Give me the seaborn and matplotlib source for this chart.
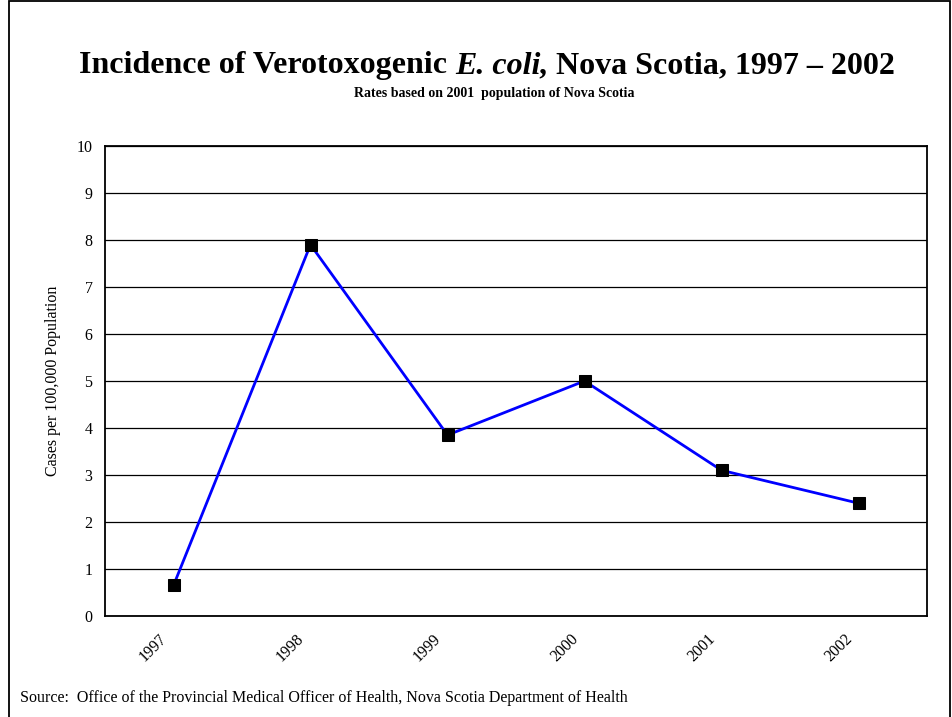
import matplotlib
matplotlib.use('Agg')
import matplotlib.pyplot as plt
import matplotlib.transforms as mtransforms
import seaborn as sns
import pandas as pd
from matplotlib.patches import Rectangle

# datos
years = ['1997', '1998', '1999', '2000', '2001', '2002']
rates = [0.65, 7.9, 3.85, 5.0, 3.1, 2.4]

df = pd.DataFrame({'year': years, 'rate': rates})

sns.set_style('white')
plt.rcParams['font.family'] = ['Liberation Serif', 'DejaVu Serif']
plt.rcParams['text.color'] = 'black'
plt.rcParams['axes.labelcolor'] = 'black'
plt.rcParams['xtick.color'] = 'black'
plt.rcParams['ytick.color'] = 'black'

fig = plt.figure(figsize=(9.52, 7.17), dpi=100)
ax = fig.add_axes([105/952, 1 - 616/717, 822/952, 470/717])

sns.lineplot(data=df, x='year', y='rate', ax=ax, color='#0000ff', linewidth=2,
             marker='s', markersize=9, markerfacecolor='black',
             markeredgecolor='black', sort=False)

ax.set_xlim(-0.5, len(years) - 0.5)
ax.set_ylim(0, 10)
ax.set_yticks(range(0, 11))
ax.yaxis.grid(True, color='black', linewidth=0.9)
ax.set_axisbelow(True)
ax.tick_params(axis='both', length=0, labelsize=11.5)
ax.tick_params(axis='x', pad=23)
ax.tick_params(axis='y', pad=9)
shift = mtransforms.ScaledTranslation(-0.2, 0, fig.dpi_scale_trans)
for lbl in ax.get_xticklabels():
    lbl.set_rotation(45)
    lbl.set_ha('center')
    lbl.set_va('center')
    lbl.set_transform(lbl.get_transform() + shift)
for s in ax.spines.values():
    s.set_color('black')
    s.set_linewidth(1.3)
ax.set_xlabel('')
ax.set_ylabel('Cases per 100,000 Population', fontsize=11.5, labelpad=11)

# titulo con parte en cursiva
r = fig.canvas.get_renderer()
ty = 1 - 66/717
parts = [('Incidence of Verotoxogenic ', 'normal'), ('E. coli,', 'italic'),
         (' Nova Scotia, 1997 \u2013 2002', 'normal')]
texts = [fig.text(0, ty, p, fontsize=23, fontweight='bold', style=st, va='center')
         for p, st in parts]
widths = [t.get_window_extent(r).width for t in texts]
x0 = 487 - sum(widths) / 2
for t, w in zip(texts, widths):
    t.set_x(x0 / 952)
    x0 += w

fig.text(494/952, 1 - 94/717, 'Rates based on 2001  population of Nova Scotia',
         fontsize=10, fontweight='bold', ha='center', va='center')
fig.text(20/952, 1 - 698/717,
         'Source:  Office of the Provincial Medical Officer of Health, Nova Scotia Department of Health',
         fontsize=11.5, ha='left', va='center')

# marco
fig.patches.append(Rectangle((9/952, -0.05), 941/952, 1 - 1/717 + 0.05,
                             transform=fig.transFigure, fill=False,
                             edgecolor='black', linewidth=1.3))

fig.savefig('out.png', dpi=100)
